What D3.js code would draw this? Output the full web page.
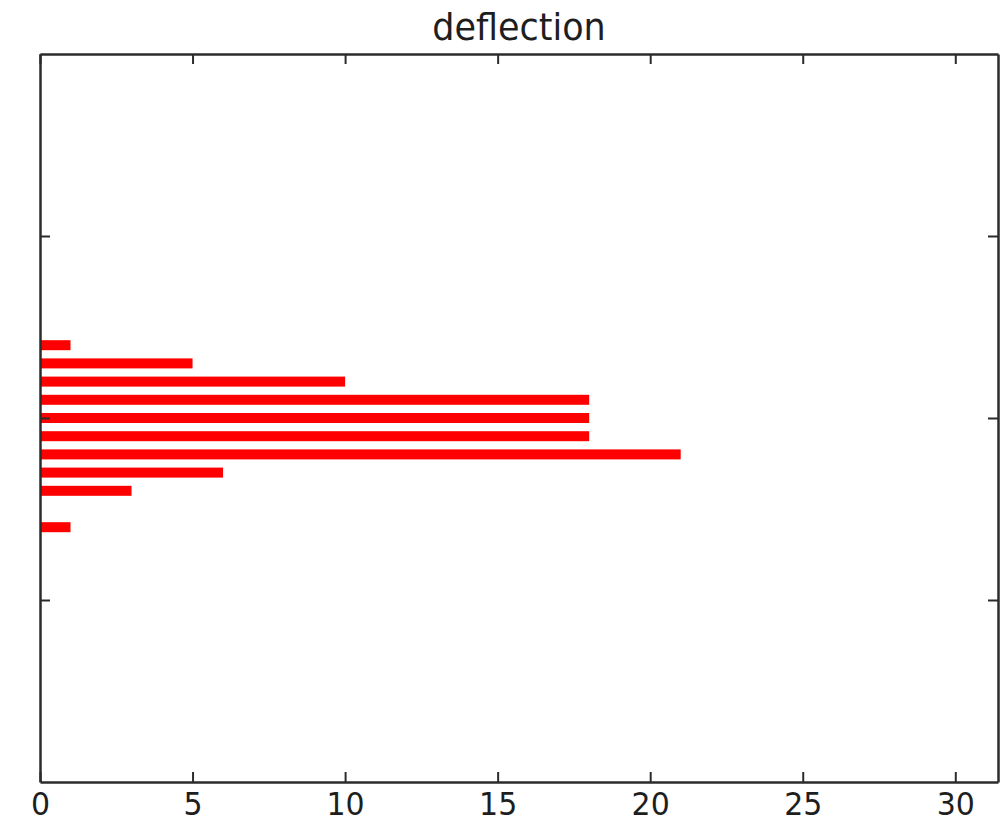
<!DOCTYPE html>
<html>
<head>
<meta charset="utf-8">
<script src="https://cdn.jsdelivr.net/npm/d3@7"></script>
<style>
  html, body { margin: 0; padding: 0; background: #fff; }
  svg { display: block; }
  text { font-family: "DejaVu Sans", sans-serif; }
</style>
</head>
<body>
<svg id="chart" width="1001" height="823"></svg>
<script>
// ---- data ----
const title = "deflection";
const binCenters = [0.4, 0.3, 0.2, 0.1, 0.0, -0.1, -0.2, -0.3, -0.4, -0.5, -0.6];
const counts     = [1,   5,   10,  18,  18,  18,   21,   6,    3,    0,    1];
const xTicks = [0, 5, 10, 15, 20, 25, 30];
const yTicks = [-1, 0, 1];
const xDomain = [0, 31.4];
const yDomain = [-2, 2];
const barThickness = 0.055;

// ---- layout ----
const plotLeft = 40, plotRight = 998, plotTop = 54, plotBottom = 782;
const svg = d3.select("#chart");

const x = d3.scaleLinear().domain(xDomain).range([plotLeft, plotRight]);
const y = d3.scaleLinear().domain(yDomain).range([plotBottom, plotTop]);

// bars
svg.append("g").selectAll("rect")
  .data(binCenters.map((c, i) => ({c, v: counts[i]})).filter(d => d.v > 0))
  .join("rect")
  .attr("x", x(0))
  .attr("y", d => y(d.c + barThickness / 2))
  .attr("width", d => x(d.v) - x(0))
  .attr("height", d => y(d.c - barThickness / 2) - y(d.c + barThickness / 2))
  .attr("fill", "#ff0000");

const spineColor = "#2b2b2b";

// bottom axis with labels
const gB = svg.append("g").attr("transform", `translate(0,${plotBottom})`)
  .call(d3.axisBottom(x).tickValues(xTicks).tickSizeInner(-10).tickSizeOuter(0).tickFormat(d3.format("d")));
gB.selectAll("text")
  .attr("y", null).attr("dy", null)
  .attr("transform", "translate(0,33) scale(1,1.08)")
  .attr("font-size", 30)
  .attr("font-family", "DejaVu Sans, sans-serif")
  .attr("fill", "#1e1e1e");

// top axis (ticks only)
const gT = svg.append("g").attr("transform", `translate(0,${plotTop})`)
  .call(d3.axisTop(x).tickValues(xTicks).tickSizeInner(-10).tickSizeOuter(0).tickFormat(""));

// left axis (ticks only)
const gL = svg.append("g").attr("transform", `translate(${plotLeft},0)`)
  .call(d3.axisLeft(y).tickValues(yTicks).tickSizeInner(-10).tickSizeOuter(0).tickFormat(""));

// right axis (ticks only)
const gR = svg.append("g").attr("transform", `translate(${plotRight},0)`)
  .call(d3.axisRight(y).tickValues(yTicks).tickSizeInner(-10).tickSizeOuter(0).tickFormat(""));

[gB, gT, gL, gR].forEach(g => {
  g.select(".domain").attr("stroke", spineColor).attr("stroke-width", 2.5);
  g.selectAll(".tick line").attr("stroke", spineColor).attr("stroke-width", 2);
});

// title
svg.append("text")
  .attr("transform", `translate(${(plotLeft + plotRight) / 2},40) scale(1,1.08)`)
  .attr("text-anchor", "middle")
  .attr("font-size", 35)
  .attr("fill", "#1e1e1e")
  .text(title);
</script>
</body>
</html>
